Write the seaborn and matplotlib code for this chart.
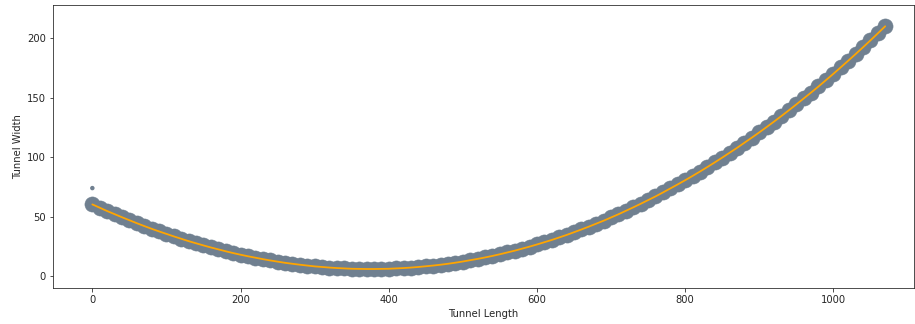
import numpy as np
import pandas as pd
import matplotlib
matplotlib.use("Agg")
import matplotlib.pyplot as plt
import seaborn as sns

length = list(range(0, 1080, 10))
width = [
    60.3, 57.5, 54.7, 52.1, 49.5, 47.0, 44.5, 42.1, 39.8, 37.6,
    35.5, 33.4, 31.4, 29.4, 27.6, 25.8, 24.1, 22.5, 20.9, 19.4,
    18.0, 16.7, 15.5, 14.3, 13.2, 12.2, 11.2, 10.4, 9.6, 8.9,
    8.2, 7.7, 7.2, 6.8, 6.5, 6.2, 6.1, 6.0, 6.0, 6.1,
    6.2, 6.5, 6.8, 7.2, 7.7, 8.3, 8.9, 9.6, 10.4, 11.3,
    12.3, 13.4, 14.5, 15.7, 17.0, 18.4, 19.9, 21.4, 23.1, 24.8,
    26.6, 28.5, 30.4, 32.5, 34.6, 36.9, 39.2, 41.6, 44.1, 46.6,
    49.3, 52.0, 54.9, 57.8, 60.8, 63.9, 67.0, 70.3, 73.7, 77.1,
    80.6, 84.2, 87.9, 91.7, 95.6, 99.6, 103.7, 107.8, 112.1, 116.4,
    120.8, 125.3, 129.9, 134.6, 139.4, 144.3, 149.3, 154.3, 159.4, 164.7,
    170.0, 175.5, 181.0, 186.6, 192.3, 198.1, 204.0, 210.0,
]
outlier_length = [0]
outlier_width = [74]

df = pd.DataFrame({"length": length, "width": width})
out_df = pd.DataFrame({"length": outlier_length, "width": outlier_width})

sns.set_style("ticks")
plt.rcParams.update({"font.size": 10, "axes.labelsize": 10,
                     "xtick.labelsize": 10, "ytick.labelsize": 10})

fig, ax = plt.subplots(figsize=(915 / 72, 324 / 72), dpi=72)
fig.subplots_adjust(left=0.058, right=0.999, bottom=0.111, top=0.985)

# dense band of measurements
sns.scatterplot(data=df, x="length", y="width", color="slategray",
                s=230, edgecolor="slategray", linewidth=0.5, ax=ax)
sns.scatterplot(data=out_df, x="length", y="width", color="slategray",
                s=20, edgecolor="none", ax=ax)
# fitted curve
sns.lineplot(data=df, x="length", y="width", color="orange",
             linewidth=1.8, ax=ax)

ax.set_xlim(-53, 1109)
ax.set_ylim(-10, 228)
ax.set_xticks([0, 200, 400, 600, 800, 1000])
ax.set_yticks([0, 50, 100, 150, 200])
ax.set_xlabel("Tunnel Length")
ax.set_ylabel("Tunnel Width")

fig.savefig("out.png", dpi=72)
plt.close(fig)
